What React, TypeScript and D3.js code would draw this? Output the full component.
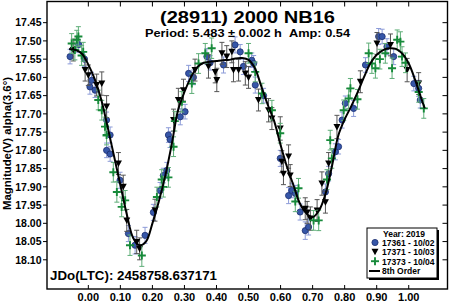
import React from 'react';
import * as d3 from 'd3';

const W = 450;
const H = 303;

const xTicks = [0, 0.1, 0.2, 0.3, 0.4, 0.5, 0.6, 0.7, 0.8, 0.9, 1.0];
const yTicks = [17.45, 17.5, 17.55, 17.6, 17.65, 17.7, 17.75, 17.8, 17.85, 17.9, 17.95, 18.0, 18.05, 18.1];

const titleText = '(28911) 2000 NB16';
const subtitleText = 'Period: 5.483 \u00b1 0.002 h \u00a0Amp: 0.54';
const jdText = 'JDo(LTC): 2458758.637171';
const yLabel = 'Magnitude(V) alpha(3.6\u00b0)';
const legendTitle = 'Year: 2019';
const legendLabels = ['17361 - 10/02', '17371 - 10/03', '17373 - 10/04', '8th Order'];

// [phase, magnitude, error]
const s17361: [number, number, number][] = [
  [-0.057, 17.543, 0.02], [-0.03, 17.51, 0.022], [-0.012, 17.55, 0.02], [0.005, 17.626, 0.02], [0.01, 17.608, 0.022],
  [0.021, 17.635, 0.02], [0.057, 17.717, 0.022], [0.057, 17.8, 0.02], [0.068, 17.758, 0.022],
  [0.068, 17.81, 0.02], [0.099, 17.882, 0.022], [0.125, 18.028, 0.022], [0.146, 18.06, 0.024],
  [0.177, 18.033, 0.022], [0.203, 17.97, 0.022], [0.224, 17.91, 0.022], [0.234, 17.869, 0.02],
  [0.245, 17.855, 0.022], [0.25, 17.758, 0.02], [0.255, 17.77, 0.022], [0.287, 17.708, 0.022],
  [0.302, 17.694, 0.02], [0.313, 17.589, 0.022], [0.328, 17.6, 0.02], [0.37, 17.543, 0.022],
  [0.38, 17.56, 0.02], [0.422, 17.566, 0.022], [0.458, 17.511, 0.022], [0.474, 17.53, 0.02],
  [0.484, 17.57, 0.022], [0.51, 17.553, 0.02], [0.516, 17.562, 0.022], [0.521, 17.621, 0.022],
  [0.547, 17.65, 0.02], [0.599, 17.822, 0.022], [0.625, 17.924, 0.022], [0.635, 17.91, 0.02],
  [0.646, 17.918, 0.022], [0.661, 17.969, 0.022], [0.677, 18.02, 0.024], [0.6875, 18.01, 0.022],
  [0.74, 17.914, 0.022], [0.75, 17.864, 0.02], [0.771, 17.804, 0.022], [0.781, 17.79, 0.02],
  [0.792, 17.717, 0.022], [0.802, 17.671, 0.02], [0.828, 17.685, 0.022], [0.865, 17.566, 0.02],
  [0.906, 17.488, 0.022], [0.917, 17.488, 0.02], [0.932, 17.516, 0.022], [0.953, 17.543, 0.022],
  [1.016, 17.617, 0.02], [1.031, 17.63, 0.022], [1.036, 17.662, 0.022],
];

const s17371: [number, number, number][] = [
  [-0.047, 17.525, 0.03], [-0.01, 17.58, 0.03], [0.0, 17.594, 0.028], [0.026, 17.621, 0.03],
  [0.042, 17.617, 0.032], [0.057, 17.68, 0.03], [0.094, 17.836, 0.03], [0.109, 17.9, 0.032],
  [0.12, 17.992, 0.03], [0.151, 18.051, 0.032], [0.16, 18.07, 0.03], [0.208, 17.964, 0.03],
  [0.266, 17.717, 0.03], [0.281, 17.662, 0.032], [0.297, 17.635, 0.03], [0.333, 17.58, 0.03],
  [0.375, 17.57, 0.032], [0.396, 17.585, 0.03], [0.401, 17.607, 0.032], [0.417, 17.534, 0.03],
  [0.432, 17.543, 0.03], [0.448, 17.53, 0.03], [0.453, 17.58, 0.032], [0.469, 17.58, 0.03],
  [0.49, 17.589, 0.032], [0.5, 17.6, 0.03], [0.531, 17.662, 0.03], [0.5625, 17.69, 0.032],
  [0.573, 17.713, 0.03], [0.599, 17.74, 0.032], [0.604, 17.831, 0.03], [0.609, 17.864, 0.03],
  [0.625, 17.817, 0.032], [0.63, 17.869, 0.03], [0.677, 17.96, 0.03], [0.683, 17.97, 0.03],
  [0.693, 17.987, 0.032], [0.714, 17.965, 0.03], [0.729, 17.891, 0.032], [0.74, 17.942, 0.03],
  [0.75, 17.836, 0.03], [0.776, 17.736, 0.032], [0.849, 17.612, 0.03], [0.901, 17.507, 0.03],
  [0.943, 17.511, 0.03], [0.995, 17.58, 0.032], [1.031, 17.617, 0.03],
];

const s17373: [number, number, number][] = [
  [-0.052, 17.507, 0.027], [-0.042, 17.525, 0.027], [-0.036, 17.497, 0.026], [-0.031, 17.488, 0.027],
  [-0.021, 17.54, 0.027], [-0.016, 17.53, 0.026], [0.031, 17.662, 0.027], [0.042, 17.69, 0.027],
  [0.052, 17.735, 0.026], [0.057, 17.758, 0.027], [0.078, 17.86, 0.027], [0.089, 17.914, 0.028],
  [0.104, 17.955, 0.027], [0.115, 17.937, 0.027], [0.13, 18.06, 0.028], [0.167, 18.088, 0.03],
  [0.214, 17.928, 0.027], [0.229, 17.88, 0.027], [0.234, 17.9, 0.028], [0.25, 17.874, 0.027],
  [0.266, 17.79, 0.027], [0.27, 17.72, 0.027], [0.292, 17.667, 0.028], [0.323, 17.617, 0.027],
  [0.344, 17.562, 0.027], [0.365, 17.534, 0.027], [0.385, 17.52, 0.028], [0.5, 17.534, 0.027],
  [0.521, 17.585, 0.027], [0.542, 17.644, 0.028], [0.573, 17.69, 0.027], [0.599, 17.753, 0.027],
  [0.646, 17.94, 0.028], [0.656, 17.904, 0.027], [0.703, 17.992, 0.027], [0.719, 17.992, 0.028],
  [0.745, 17.88, 0.027], [0.755, 17.772, 0.027], [0.76, 17.822, 0.027], [0.797, 17.69, 0.028],
  [0.8125, 17.658, 0.027], [0.818, 17.63, 0.027], [0.84, 17.66, 0.027], [0.875, 17.534, 0.028],
  [0.885, 17.562, 0.027], [0.896, 17.575, 0.027], [0.91, 17.55, 0.027], [0.927, 17.534, 0.027], [0.948, 17.575, 0.028],
  [0.964, 17.497, 0.027], [0.974, 17.502, 0.027], [0.979, 17.543, 0.027], [0.99, 17.56, 0.027], [1.031, 17.64, 0.028],
  [1.047, 17.685, 0.027],
];

// 8th order Fourier fit
const fitCurve: [number, number][] = [
  [-0.06, 17.522], [-0.04, 17.525], [-0.02, 17.535], [0.0, 17.565], [0.02, 17.605], [0.04, 17.66],
  [0.06, 17.735], [0.08, 17.815], [0.1, 17.895], [0.12, 17.975], [0.14, 18.04], [0.16, 18.06],
  [0.18, 18.05], [0.2, 18.0], [0.22, 17.94], [0.24, 17.87], [0.26, 17.785], [0.28, 17.69],
  [0.3, 17.64], [0.32, 17.6], [0.34, 17.572], [0.36, 17.56], [0.38, 17.557], [0.4, 17.555],
  [0.42, 17.553], [0.44, 17.552], [0.46, 17.548], [0.48, 17.547], [0.5, 17.552], [0.52, 17.575],
  [0.54, 17.625], [0.56, 17.675], [0.58, 17.72], [0.6, 17.785], [0.62, 17.845], [0.64, 17.895],
  [0.66, 17.945], [0.68, 17.972], [0.7, 17.983], [0.72, 17.965], [0.74, 17.92], [0.76, 17.845],
  [0.78, 17.76], [0.8, 17.715], [0.82, 17.68], [0.84, 17.642], [0.86, 17.6], [0.88, 17.562],
  [0.9, 17.538], [0.92, 17.525], [0.94, 17.52], [0.96, 17.522], [0.98, 17.535], [1.0, 17.562],
  [1.02, 17.607], [1.04, 17.66], [1.05, 17.685],
];

const FONT = "'Liberation Sans', Arial, sans-serif";

const L = 47, R = 447.5, T0 = 1.5, B = 289;

function Txt(props: {
  x: number; y: number; size: number; anchor?: string; sx?: number; len?: number;
  rotate?: number; children: React.ReactNode;
}) {
  const { x, y, size, anchor = 'start', sx = 1, len, rotate = 0, children } = props;
  return (
    <g transform={`translate(${x},${y}) rotate(${rotate}) scale(${sx},1)`}>
      <text
        x={0}
        y={0}
        fontFamily={FONT}
        fontWeight="bold"
        fontSize={size}
        textAnchor={anchor as any}
        fill="#000"
        {...(len ? { textLength: len, lengthAdjust: 'spacingAndGlyphs' } : {})}
      >
        {children}
      </text>
    </g>
  );
}

export default function App() {
  const x = d3.scaleLinear().domain([-0.129, 1.121]).range([L, R]);
  const y = d3.scaleLinear().domain([17.392, 18.18]).range([T0, B]);

  const line = d3
    .line<[number, number]>()
    .x((d) => x(d[0]))
    .y((d) => y(d[1]))
    .curve(d3.curveCatmullRom.alpha(0.5));

  const errBars = (data: [number, number, number][], color: string, key: string) =>
    data.map((d, i) => {
      const cx = x(d[0]);
      const y1 = y(d[1] - d[2]);
      const y2 = y(d[1] + d[2]);
      return (
        <g key={key + i} stroke={color} strokeWidth={1}>
          <line x1={cx} x2={cx} y1={y1} y2={y2} />
          <line x1={cx - 2.5} x2={cx + 2.5} y1={y1} y2={y1} />
          <line x1={cx - 2.5} x2={cx + 2.5} y1={y2} y2={y2} />
        </g>
      );
    });

  const circle = (cx: number, cy: number, k: string) => (
    <circle key={k} cx={cx} cy={cy} r={3.1} fill="#3656a8" stroke="#1c2f70" strokeWidth={0.8} />
  );
  const tri = (cx: number, cy: number, k: string) => (
    <path key={k} d={`M${cx - 3.5},${cy - 3}L${cx + 3.5},${cy - 3}L${cx},${cy + 3.5}Z`} fill="#000" />
  );
  const plus = (cx: number, cy: number, k: string) => (
    <g key={k} stroke="#178a3a" strokeWidth={1.9}>
      <line x1={cx - 4} x2={cx + 4} y1={cy} y2={cy} />
      <line x1={cx} x2={cx} y1={cy - 4} y2={cy + 4} />
    </g>
  );

  return (
    <svg
      width={W}
      height={H}
      style={{ position: 'fixed', left: 0, top: 0, background: '#fff' }}
    >
      <rect x={0} y={0} width={W} height={H} fill="#fff" />
      <defs>
        <clipPath id="plotClip">
          <rect x={L} y={T0} width={R - L} height={B - T0} />
        </clipPath>
      </defs>

      <g clipPath="url(#plotClip)">
        {errBars(s17361, '#8c9bd8', 'eb1')}
        {s17361.map((d, i) => circle(x(d[0]), y(d[1]), 'c' + i))}
        {errBars(s17371, '#555555', 'eb2')}
        {s17371.map((d, i) => tri(x(d[0]), y(d[1]), 't' + i))}
        {errBars(s17373, '#5fae78', 'eb3')}
        {s17373.map((d, i) => plus(x(d[0]), y(d[1]), 'p' + i))}
        <path d={line(fitCurve) || ''} fill="none" stroke="#000" strokeWidth={2} />
      </g>

      {/* frame */}
      <rect x={L} y={T0} width={R - L} height={B - T0} fill="none" stroke="#000" strokeWidth={1.4} />

      {/* y ticks */}
      {yTicks.map((t) => (
        <g key={'yt' + t}>
          <line x1={L - 4} x2={L} y1={y(t)} y2={y(t)} stroke="#000" strokeWidth={1} />
          <line x1={R - 5} x2={R} y1={y(t)} y2={y(t)} stroke="#000" strokeWidth={1} />
          <Txt x={41.5} y={y(t) + 3.7} size={10.5} anchor="end">
            {t.toFixed(2)}
          </Txt>
        </g>
      ))}

      {/* x ticks */}
      {xTicks.map((t) => (
        <g key={'xt' + t}>
          <line x1={x(t)} x2={x(t)} y1={B - 4} y2={B} stroke="#000" strokeWidth={1} />
          <line x1={x(t)} x2={x(t)} y1={T0} y2={T0 + 5} stroke="#000" strokeWidth={1} />
          <Txt x={x(t)} y={301} size={10.5} anchor="middle" sx={1.05}>
            {t.toFixed(2)}
          </Txt>
        </g>
      ))}

      {/* titles */}
      <Txt x={247.5} y={22.7} size={16} anchor="middle" len={175}>
        {titleText}
      </Txt>
      <Txt x={247.5} y={36.7} size={11.5} anchor="middle" len={205}>
        {subtitleText}
      </Txt>
      <Txt x={50} y={280} size={12} anchor="start" len={167}>
        {jdText}
      </Txt>
      <Txt x={10.8} y={143.5} size={10.5} anchor="middle" rotate={-90} len={133}>
        {yLabel}
      </Txt>

      {/* legend */}
      <rect x={369} y={230} width={70} height={50} fill="#000" />
      <rect x={367} y={228} width={70} height={50} fill="#fff" stroke="#000" strokeWidth={1} />
      <Txt x={404} y={236.5} size={8.5} anchor="middle">
        {legendTitle}
      </Txt>
      {circle(375, 242.5, 'lc')}
      {tri(375, 251.8, 'lt')}
      {plus(375, 261.2, 'lp')}
      <line x1={369} x2={380} y1={271} y2={271} stroke="#000" strokeWidth={2} />
      {legendLabels.map((lab, i) => (
        <Txt key={lab} x={382} y={245.5 + i * 9.5} size={8.5} anchor="start">
          {lab}
        </Txt>
      ))}
    </svg>
  );
}
